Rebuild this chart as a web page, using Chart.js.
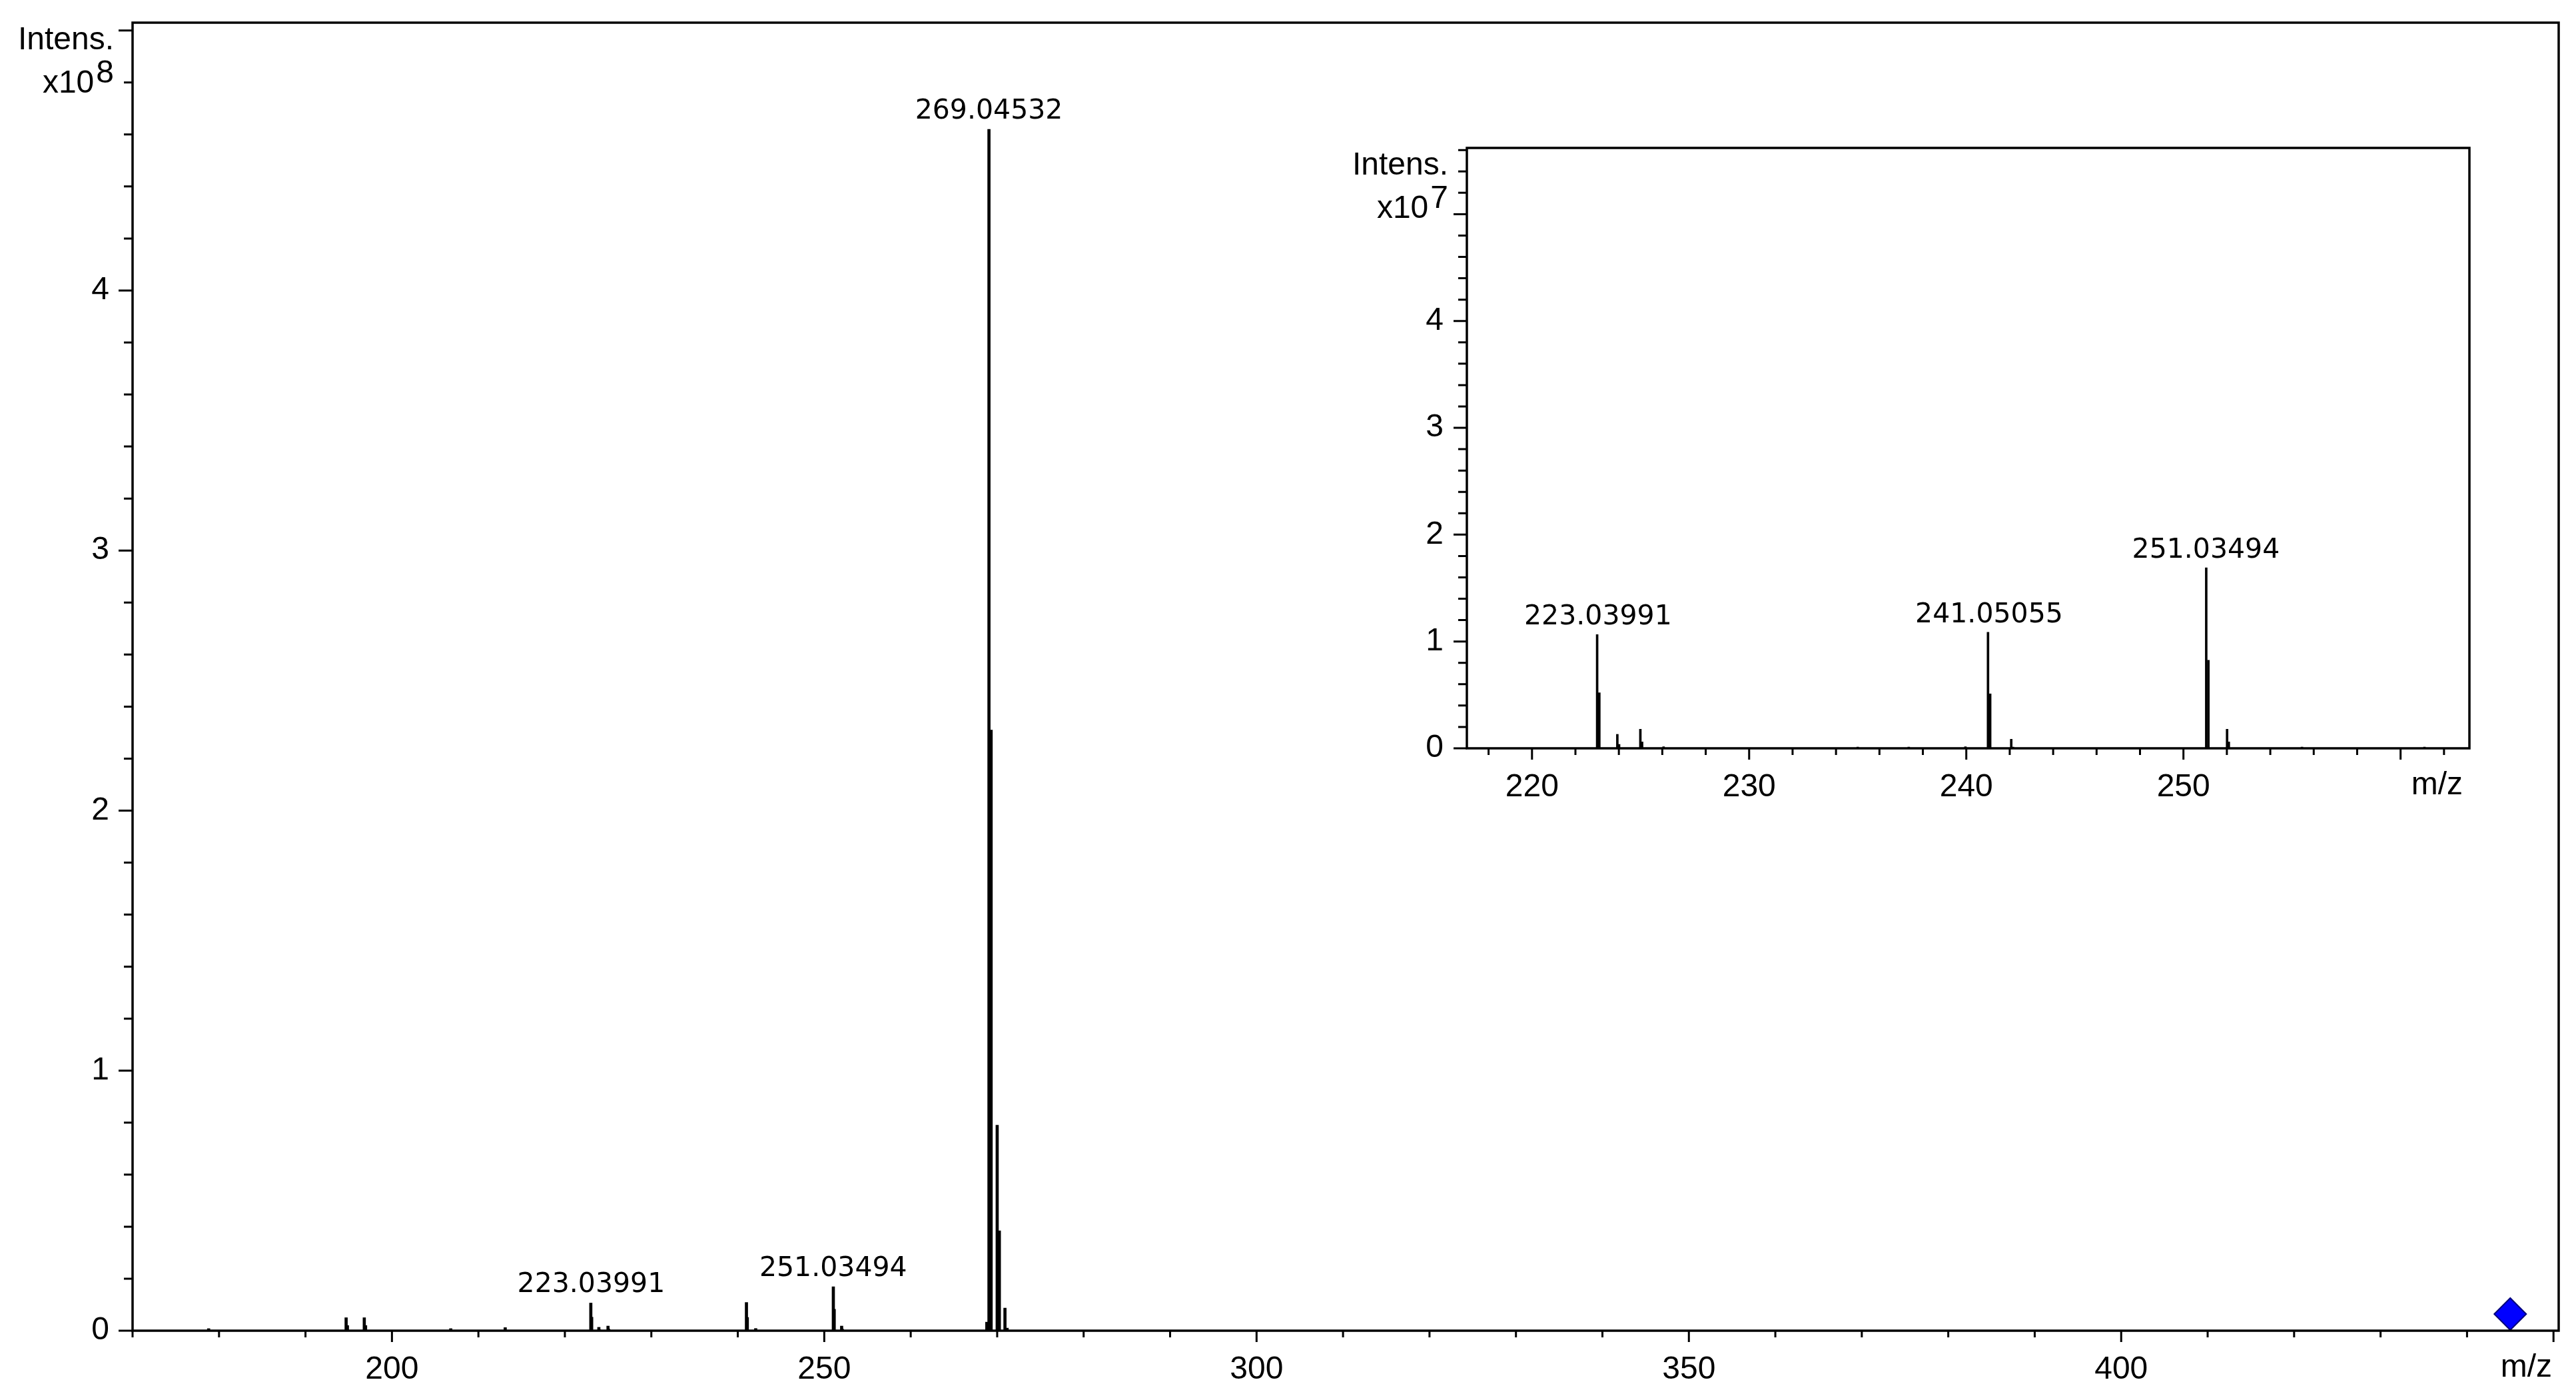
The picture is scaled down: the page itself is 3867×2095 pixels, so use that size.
<!DOCTYPE html>
<html><head><meta charset="utf-8">
<script src="https://cdn.jsdelivr.net/npm/chart.js@4.4.1/dist/chart.umd.min.js"></script>
<style>
html,body{margin:0;padding:0;background:#fff;}
#wrap{position:relative;width:3867px;height:2095px;background:#fff;}
#main{position:absolute;left:0;top:0;}
#inset{position:absolute;left:2000px;top:150px;}
</style></head><body>
<div id="wrap"><canvas id="main" width="3867" height="2095"></canvas><canvas id="inset" width="1760" height="1100"></canvas></div>
<script>
// ---- data (m/z, absolute intensity) ----
const peakMz = [178.8, 194.7, 194.85, 196.8, 196.95, 206.8, 213.1, 223.00, 223.10, 223.93, 224.01, 224.99, 225.07, 226.06, 235.0, 237.35, 239.96, 241.00, 241.10, 242.07, 242.15, 251.05, 251.15, 252.01, 252.09, 255.46, 261.1, 268.8, 269.05, 269.3, 270.0, 270.25, 270.9, 271.15];
const peakIntensity = [800000, 5000000, 2000000, 5000000, 2000000, 800000, 1200000, 10640000, 5200000, 1310000, 370000, 1790000, 600000, 150000, 120000, 120000, 150000, 10860000, 5100000, 850000, 120000, 16900000, 8250000, 1790000, 600000, 120000, 120000, 3300000, 462000000, 231000000, 79000000, 38400000, 8700000, 1000000];
const mainLabelMz = [223.03991, 251.03494, 269.04532];
const mainLabelText = ["223.03991", "251.03494", "269.04532"];
const insetLabelMz = [223.03991, 241.05055, 251.03494];
const insetLabelText = ["223.03991", "241.05055", "251.03494"];
const precursorMz = [445.0];
const precursorLevel = [0.064]; // in x10^8
const mainXTickLabels = [200, 250, 300, 350, 400];
const mainYTickLabels = [0, 1, 2, 3, 4];
const insetXTickLabels = [220, 230, 240, 250];
const insetYTickLabels = [0, 1, 2, 3, 4];

Chart.defaults.font.family = "'Liberation Sans', Arial, sans-serif";
Chart.defaults.color = '#000';

const specPlugin = {
  id: 'spec',
  afterDraw(chart, args, o) {
    const ctx = chart.ctx, a = chart.chartArea;
    const xs = chart.scales.x, ys = chart.scales.y;
    ctx.save();
    ctx.strokeStyle = '#000';
    ctx.lineWidth = o.tickWidth;
    ctx.beginPath();
    xs.ticks.forEach(t => {
      const px = xs.getPixelForValue(t.value);
      const major = Math.abs(t.value / o.xMajor - Math.round(t.value / o.xMajor)) < 1e-6;
      ctx.moveTo(px, a.bottom); ctx.lineTo(px, a.bottom + (major ? o.xMajorLen : o.xMinorLen));
    });
    ys.ticks.forEach(t => {
      const py = ys.getPixelForValue(t.value);
      const major = Math.abs(t.value - Math.round(t.value)) < 1e-6;
      ctx.moveTo(a.left - (major ? o.yMajorLen : o.yMinorLen), py); ctx.lineTo(a.left, py);
    });
    ctx.stroke();
    ctx.lineWidth = o.frameWidth;
    ctx.strokeRect(a.left, a.top, a.right - a.left, a.bottom - a.top);
    ctx.fillStyle = '#000';
    ctx.font = o.peakFont; ctx.textAlign = 'center'; ctx.textBaseline = 'alphabetic';
    o.labelMz.forEach((mz, k) => {
      let h = 0;
      peakMz.forEach((m, i) => { if (Math.abs(m - mz) < 0.3) h = Math.max(h, peakIntensity[i] / o.unit); });
      ctx.fillText(o.labelText[k], xs.getPixelForValue(mz), ys.getPixelForValue(h) - o.labelGap);
    });
    ctx.font = o.axisFont; ctx.textAlign = 'right';
    const rx = a.left - o.titleGap;
    ctx.fillText('Intens.', rx, a.top + 40);
    const supW = ctx.measureText(o.exponent).width;
    ctx.fillText(o.exponent, rx, a.top + 90);
    ctx.fillText('x10', rx - supW - 3, a.top + 105);
    ctx.fillText('m/z', a.right - 10, a.bottom + 69);
    ctx.restore();
  }
};

function tickCb(list) { return v => list.some(l => Math.abs(l - v) < 1e-6) ? String(Math.round(v)) : ''; }
function zeroPad(s) { s.paddingTop = 0; s.paddingBottom = 0; s.paddingLeft = 0; s.paddingRight = 0; }

function makeChart(id, cfg) {
  return new Chart(document.getElementById(id), {
    type: 'bar',
    data: { datasets: cfg.datasets },
    plugins: [specPlugin],
    options: {
      responsive: false, animation: false, devicePixelRatio: 1,
      layout: { padding: cfg.padding, autoPadding: false },
      plugins: { legend: { display: false }, tooltip: { enabled: false }, spec: cfg.spec },
      scales: {
        x: {
          type: 'linear', offset: false, min: cfg.xMin, max: cfg.xMax,
          grid: { display: false, drawTicks: false }, border: { display: false },
          ticks: { stepSize: cfg.xStep, includeBounds: false, autoSkip: false, maxRotation: 0,
                   padding: 30, font: { size: 48 }, callback: tickCb(cfg.xLabels) },
          afterFit: s => { s.height = cfg.xAxisH; zeroPad(s); }
        },
        y: {
          type: 'linear', min: 0, max: cfg.yMax,
          grid: { display: false, drawTicks: false }, border: { display: false },
          ticks: { stepSize: 0.2, includeBounds: false, autoSkip: false,
                   padding: 35, font: { size: 48 }, callback: tickCb(cfg.yLabels) },
          afterFit: s => { s.width = cfg.yAxisW; zeroPad(s); }
        }
      }
    }
  });
}

// main spectrum (x10^8)
makeChart('main', {
  datasets: [
    { type: 'bar', data: peakMz.map((m, i) => ({ x: m, y: peakIntensity[i] / 1e8 })),
      backgroundColor: '#000', barThickness: 4, grouped: false },
    { type: 'scatter', data: precursorMz.map((m, i) => ({ x: m, y: precursorLevel[i] })),
      pointStyle: 'rectRot', pointRadius: 24, backgroundColor: '#0000ff', borderColor: '#00007a', borderWidth: 2 }
  ],
  padding: { left: 0, top: 34, right: 26, bottom: 0 },
  xMin: 170, xMax: 450.6, xStep: 10, xLabels: mainXTickLabels, xAxisH: 98,
  yMax: 5.03, yLabels: mainYTickLabels, yAxisW: 199,
  spec: { unit: 1e8, exponent: '8', xMajor: 50, xMajorLen: 17, xMinorLen: 10, yMajorLen: 21, yMinorLen: 13,
          tickWidth: 3, frameWidth: 3.5, peakFont: "41px 'DejaVu Sans'", axisFont: "48px 'Liberation Sans'",
          labelGap: 16, titleGap: 28, labelMz: mainLabelMz, labelText: mainLabelText }
});

// inset (x10^7)
const insetMin = 217, insetMax = 263.17;
makeChart('inset', {
  datasets: [
    { type: 'bar', data: peakMz.map((m, i) => ({ x: m, y: peakIntensity[i] / 1e7 })).filter(p => p.x > insetMin && p.x < insetMax),
      backgroundColor: '#000', barThickness: 3, grouped: false }
  ],
  padding: { left: 0, top: 72, right: 53, bottom: 0 },
  xMin: insetMin, xMax: insetMax, xStep: 2, xLabels: insetXTickLabels, xAxisH: 127,
  yMax: 5.62, yLabels: insetYTickLabels, yAxisW: 202,
  spec: { unit: 1e7, exponent: '7', xMajor: 10, xMajorLen: 17, xMinorLen: 10, yMajorLen: 20, yMinorLen: 13,
          tickWidth: 3, frameWidth: 3.5, peakFont: "41px 'DejaVu Sans'", axisFont: "48px 'Liberation Sans'",
          labelGap: 15, titleGap: 28, labelMz: insetLabelMz, labelText: insetLabelText }
});
</script>
</body></html>
